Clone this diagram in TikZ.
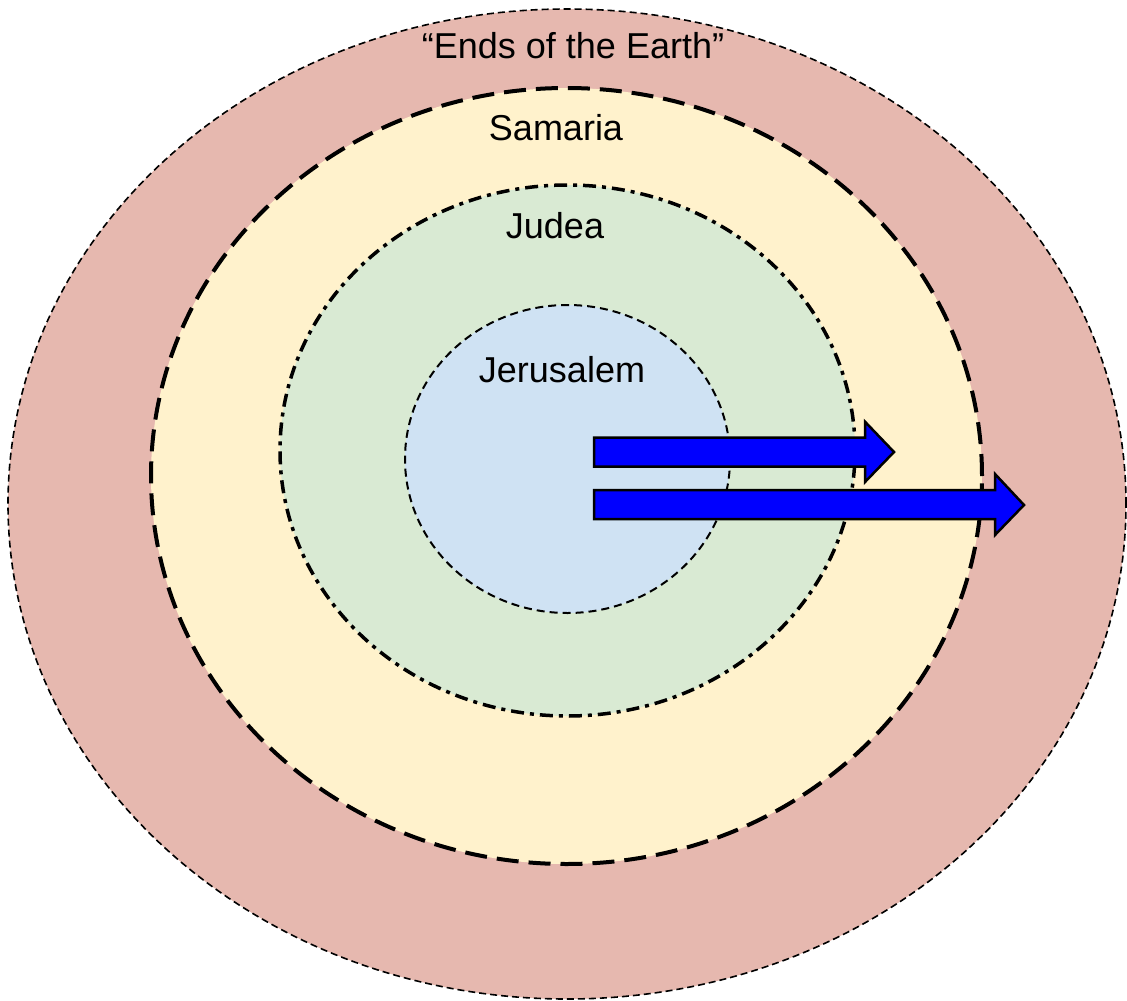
\documentclass[tikz,border=0pt]{standalone}
\usepackage{fontspec}
\setmainfont{Liberation Sans}
\usetikzlibrary{shapes.geometric}
\definecolor{earthcol}{HTML}{E6B8AF}
\definecolor{samcol}{HTML}{FFF2CC}
\definecolor{judcol}{HTML}{D9EAD3}
\definecolor{jercol}{HTML}{CFE2F3}
\tikzset{
  zone/.style={ellipse, draw=black, inner sep=0pt, outer sep=0pt},
  lbl/.style={anchor=base, inner sep=0pt, font=\fontsize{36}{40}\selectfont},
  bluearrow/.style={draw=black, fill=blue, line width=2.5pt, line join=miter}
}
\begin{document}
\begin{tikzpicture}[x=1pt, y=-1pt]
\useasboundingbox (0,0) rectangle (1127,1001);
\node[zone, fill=earthcol, line width=1.6pt, dash pattern=on 7pt off 4pt,
      minimum width=1118pt, minimum height=990pt] (earth) at (567,504) {};
\node[zone, fill=samcol, line width=4pt, dash pattern=on 22pt off 10pt,
      minimum width=831pt, minimum height=776pt] (samaria) at (566.5,476) {};
\node[zone, fill=judcol, line width=3.5pt, dash pattern=on 13pt off 6pt on 4pt off 6pt,
      minimum width=575pt, minimum height=531pt] (judea) at (567.5,450.5) {};
\node[zone, fill=jercol, line width=2pt, dash pattern=on 8pt off 5pt,
      minimum width=325pt, minimum height=308pt] (jerusalem) at (567.5,459) {};
\node[lbl] (tEarth) at (573,58) {“Ends of the Earth”};
\node[lbl] (tSam) at (556,140) {Samaria};
\node[lbl] (tJud) at (555,238) {Judea};
\node[lbl] (tJer) at (562,382) {Jerusalem};
\draw[bluearrow] (594,437.7) -- (865,437.7) -- (865,421.7) -- (894,452)
  -- (865,482) -- (865,466.7) -- (594,466.7) -- cycle;
\draw[bluearrow] (594,490) -- (995,490) -- (995,474) -- (1024,505)
  -- (995,535) -- (995,519) -- (594,519) -- cycle;
\end{tikzpicture}
\end{document}
